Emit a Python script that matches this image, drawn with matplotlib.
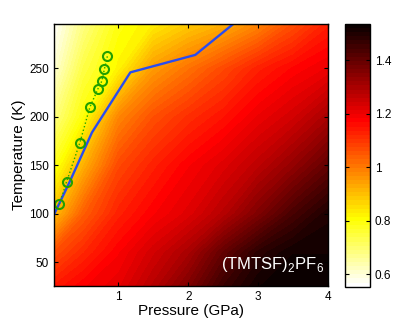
import numpy as np
import matplotlib
matplotlib.use("Agg")
from matplotlib import pyplot as plt
from matplotlib.colors import Normalize
from matplotlib.cm import ScalarMappable

plt.rcParams['font.family'] = ['Liberation Sans', 'DejaVu Sans']
plt.rcParams['mathtext.fontset'] = 'custom'
plt.rcParams['mathtext.rm'] = 'Liberation Sans'

# grid of the colour map (pressure in GPa, temperature in K)
pressure = [0.075, 0.5, 1.0, 1.5, 2.0, 2.5, 3.0, 3.5, 4.0]
temperature = [25, 60, 100, 150, 200, 250, 296]
values = [
    [1.14, 1.18, 1.21, 1.28, 1.36, 1.46, 1.52, 1.53, 1.53],
    [1.06, 1.12, 1.18, 1.24, 1.30, 1.40, 1.48, 1.52, 1.52],
    [0.90, 1.04, 1.13, 1.18, 1.22, 1.28, 1.36, 1.44, 1.50],
    [0.78, 0.92, 1.07, 1.13, 1.18, 1.22, 1.27, 1.33, 1.40],
    [0.68, 0.80, 0.98, 1.06, 1.11, 1.15, 1.20, 1.24, 1.30],
    [0.60, 0.74, 0.82, 0.95, 1.01, 1.07, 1.13, 1.17, 1.20],
    [0.56, 0.68, 0.79, 0.83, 0.88, 0.92, 0.98, 1.06, 1.13],
]

# blue boundary line
line_p = [0.0, 0.3, 0.62, 1.17, 2.1, 2.8]
line_t = [88, 133, 184, 246, 264, 305]

# green circles
circ_p = [0.151, 0.256, 0.446, 0.589, 0.704, 0.761, 0.799, 0.842]
circ_t = [109.8, 133.1, 173.3, 209.9, 228.8, 237.0, 249.7, 263.1]

vmin, vmax = 0.553, 1.536
cmap = plt.get_cmap('hot_r', 64)

fig = plt.figure(figsize=(4.15, 3.23), dpi=100)
ax = fig.add_axes([0.130, 0.1146, 0.660, 0.8114])
levels = np.linspace(vmin, vmax, 65)
ax.contourf(pressure, temperature, np.array(values), levels=levels, cmap=cmap,
            extend='both', antialiased=False)
ax.plot(line_p, line_t, color='#2a4cf0', lw=1.7)
ax.plot(circ_p, circ_t, ':', color='#22aa00', lw=1.0)
ax.plot(circ_p, circ_t, 'o', mfc='none', mec='#22a000', ms=6.5, mew=1.5)
ax.text(0.985, 0.066, r'(TMTSF)$_\mathregular{2}$PF$_\mathregular{6}$', color='white',
        fontsize=12, ha='right', va='baseline', transform=ax.transAxes)
ax.set_xlim(0.075, 4)
ax.set_ylim(25.6, 296)
ax.set_xticks([1, 2, 3, 4])
ax.set_yticks([50, 100, 150, 200, 250])
ax.tick_params(direction='in', top=True, right=True, labelsize=8.5, length=3)
ax.set_xlabel('Pressure (GPa)', fontsize=11, labelpad=1)
ax.set_ylabel('Temperature (K)', fontsize=11, labelpad=2)
for s in ax.spines.values():
    s.set_linewidth(1.0)

cax = fig.add_axes([0.8306, 0.1124, 0.061, 0.8136])
cb = fig.colorbar(ScalarMappable(norm=Normalize(vmin, vmax), cmap=cmap), cax=cax)
cb.set_ticks([0.6, 0.8, 1, 1.2, 1.4])
cb.set_ticklabels(['0.6', '0.8', '1', '1.2', '1.4'])
cax.tick_params(direction='in', left=True, right=True, labelsize=8.5, length=3)
cb.outline.set_linewidth(1.0)

fig.savefig('out.png', dpi=100)
